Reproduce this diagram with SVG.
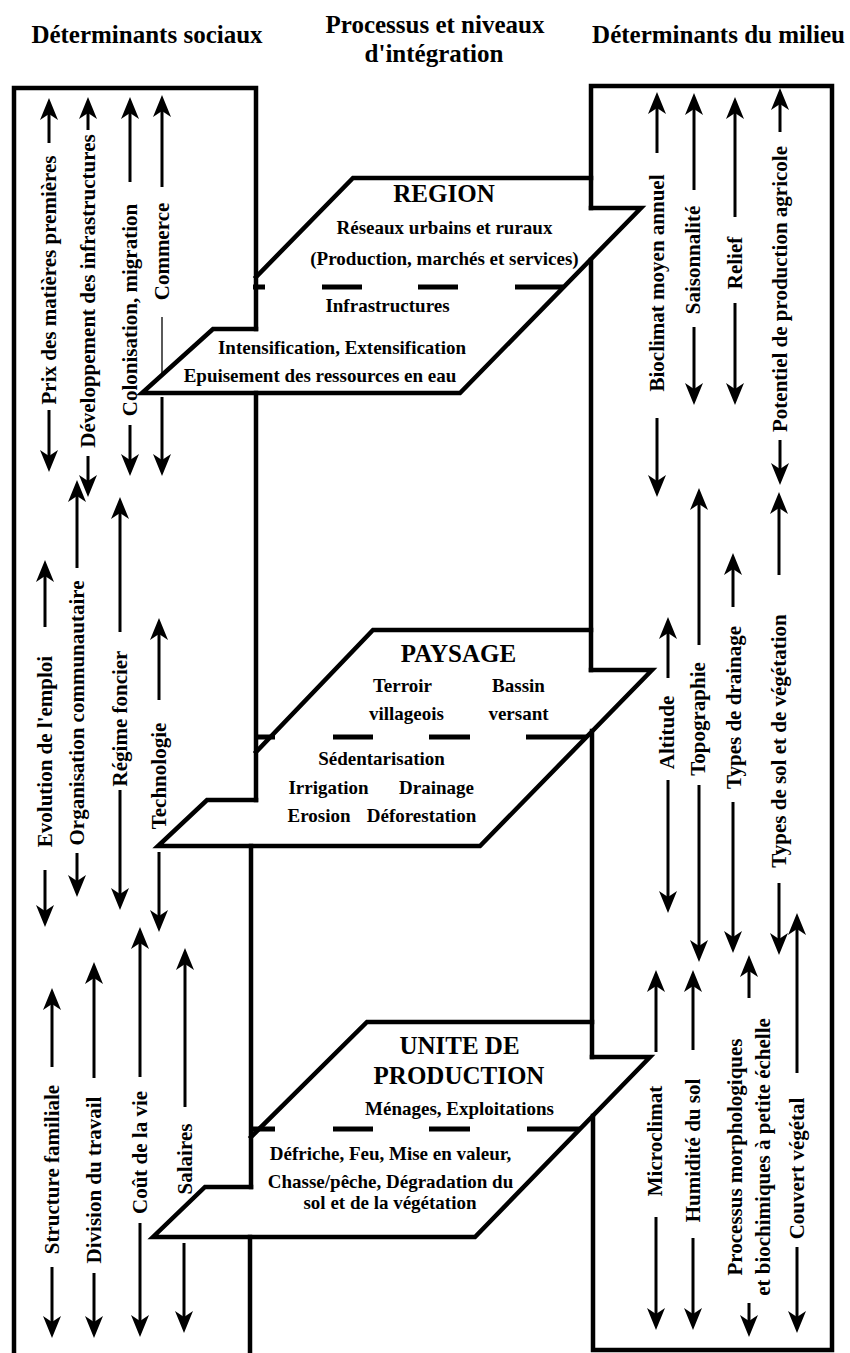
<svg xmlns="http://www.w3.org/2000/svg" width="850" height="1353" viewBox="0 0 850 1353">
<style>
.o{fill:none;stroke:#000;stroke-width:4.5;stroke-linecap:square;stroke-linejoin:miter}
.d{fill:none;stroke:#000;stroke-width:5}
.a{stroke:#000;stroke-width:3;marker-end:url(#ah)}
.t{stroke:#000;stroke-width:1.3}
text{font-family:"Liberation Serif","Times New Roman",serif;font-weight:bold;fill:#000}
.h{font-size:25px;text-anchor:middle}
.n{font-size:19px;text-anchor:middle}
.r{font-size:21px;text-anchor:middle}
</style>
<defs>
<marker id="ah" viewBox="0 0 22 18" refX="12" refY="9" markerWidth="22" markerHeight="18" markerUnits="userSpaceOnUse" orient="auto">
<path d="M0,0 L22,9 L0,18 L6,9 Z" fill="#000"/>
</marker>
</defs>
<rect width="850" height="1353" fill="#fff"/>

<g id="headers">
<text class="h" x="147" y="43">Déterminants sociaux</text>
<text class="h" x="435" y="33">Processus et niveaux</text>
<text class="h" x="434" y="62">d'intégration</text>
<text class="h" x="718.5" y="43">Déterminants du milieu</text>
</g>

<g id="col-social">
<path class="o" d="M14,1360 V88 H256 V329"/>
<path class="o" d="M256,393 V800"/>
<path class="o" d="M251,846 V1187"/>
<path class="o" d="M250,1237 V1360"/>
</g>

<g id="col-milieu">
<path class="o" d="M591,208 V86 H832 V1350 H593 V1116"/>
<path class="o" d="M591,260 V670"/>
<path class="o" d="M592,731 V1057"/>
</g>

<g id="node-region">
<path class="o" d="M256,329 H213 L142,393 H460 L641,208 H591"/>
<path class="o" d="M256,277 L353,178 H591"/>
<path class="d" d="M253,287 H265 M322,287 H362 M418,287 H458 M515,287 H563"/>
<text class="h" x="444" y="202">REGION</text>
<text class="n" x="444.5" y="234">Réseaux urbains et ruraux</text>
<text class="n" x="444.5" y="265">(Production, marchés et services)</text>
<text class="n" x="387.5" y="312">Infrastructures</text>
<text class="n" x="342" y="354">Intensification, Extensification</text>
<text class="n" x="320" y="382">Epuisement des ressources en eau</text>
</g>

<g id="node-paysage">
<path class="o" d="M256,800 H207 L158,846 H480 L652,670 H591"/>
<path class="o" d="M256,752 L373,630 H591"/>
<path class="d" d="M258,737 H275 M333,737 H373 M429,737 H470 M526,737 H587"/>
<text class="h" x="458.5" y="662">PAYSAGE</text>
<text class="n" x="402.5" y="692">Terroir</text>
<text class="n" x="518.5" y="692">Bassin</text>
<text class="n" x="406.5" y="720">villageois</text>
<text class="n" x="518.5" y="720">versant</text>
<text class="n" x="381.5" y="765">Sédentarisation</text>
<text class="n" x="328.5" y="794">Irrigation</text>
<text class="n" x="436.5" y="794">Drainage</text>
<text class="n" x="319" y="822">Erosion</text>
<text class="n" x="421.5" y="822">Déforestation</text>
</g>

<g id="node-unite">
<path class="o" d="M251,1187 H205 L153,1237 H475 L650,1057 H592"/>
<path class="o" d="M251,1137 L367,1022 H592"/>
<path class="d" d="M253,1129 H275 M333,1129 H373 M429,1129 H470 M527,1129 H580"/>
<text class="h" x="459.5" y="1054">UNITE DE</text>
<text class="h" x="459" y="1084">PRODUCTION</text>
<text class="n" x="459.5" y="1115">Ménages, Exploitations</text>
<text class="n" x="390.5" y="1160">Défriche, Feu, Mise en valeur,</text>
<text class="n" x="390.5" y="1188">Chasse/pêche, Dégradation du</text>
<text class="n" x="390" y="1209">sol et de la végétation</text>
</g>

<g id="connectors">
<!-- social, top -->
<line class="a" x1="49" y1="143" x2="49" y2="108"/><line class="a" x1="49" y1="410" x2="49" y2="462"/>
<line class="a" x1="88" y1="130" x2="88" y2="107"/><line class="a" x1="88" y1="456" x2="88" y2="487"/>
<line class="a" x1="130" y1="182" x2="130" y2="107"/><line class="a" x1="130" y1="425" x2="130" y2="466"/>
<line class="a" x1="162" y1="187" x2="162" y2="105"/><line class="t" x1="162" y1="317" x2="162" y2="373"/><line class="a" x1="162" y1="397" x2="162" y2="466"/>
<!-- social, middle -->
<line class="a" x1="45" y1="627" x2="45" y2="570"/><line class="a" x1="45" y1="870" x2="45" y2="917"/>
<line class="a" x1="77" y1="568" x2="77" y2="490"/><line class="a" x1="77" y1="853" x2="77" y2="887"/>
<line class="a" x1="120" y1="632" x2="120" y2="507"/><line class="a" x1="120" y1="790" x2="120" y2="900"/>
<line class="a" x1="159" y1="700" x2="159" y2="628"/><line class="a" x1="159" y1="852" x2="159" y2="922"/>
<!-- social, bottom -->
<line class="a" x1="52" y1="1067" x2="52" y2="998"/><line class="a" x1="52" y1="1267" x2="52" y2="1328"/>
<line class="a" x1="94" y1="1078" x2="94" y2="972"/><line class="a" x1="94" y1="1273" x2="94" y2="1328"/>
<line class="a" x1="140" y1="1077" x2="140" y2="937"/><line class="a" x1="140" y1="1223" x2="140" y2="1327"/>
<line class="a" x1="185" y1="1107" x2="185" y2="958"/><line class="a" x1="184" y1="1243" x2="184" y2="1323"/>
<!-- milieu, top -->
<line class="a" x1="657" y1="153" x2="657" y2="102"/><line class="a" x1="657" y1="418" x2="657" y2="487"/>
<line class="a" x1="694" y1="190" x2="694" y2="103"/><line class="a" x1="694" y1="327" x2="694" y2="395"/>
<line class="a" x1="735" y1="217" x2="735" y2="107"/><line class="a" x1="735" y1="303" x2="735" y2="395"/>
<line class="a" x1="780" y1="132" x2="780" y2="98"/><line class="a" x1="780" y1="440" x2="780" y2="475"/>
<!-- milieu, middle -->
<line class="a" x1="668" y1="678" x2="668" y2="627"/><line class="a" x1="668" y1="780" x2="668" y2="903"/>
<line class="a" x1="699" y1="645" x2="699" y2="498"/><line class="a" x1="699" y1="785" x2="699" y2="952"/>
<line class="a" x1="733" y1="607" x2="733" y2="563"/><line class="a" x1="733" y1="802" x2="733" y2="943"/>
<line class="a" x1="779" y1="575" x2="779" y2="502"/><line class="a" x1="779" y1="883" x2="779" y2="945"/>
<!-- milieu, bottom -->
<line class="a" x1="656" y1="1052" x2="656" y2="980"/><line class="a" x1="656" y1="1217" x2="656" y2="1320"/>
<line class="a" x1="693" y1="1050" x2="693" y2="980"/><line class="a" x1="693" y1="1238" x2="693" y2="1320"/>
<line class="a" x1="749" y1="998" x2="749" y2="965"/><line class="a" x1="749" y1="1303" x2="749" y2="1327"/>
<line class="a" x1="797" y1="1073" x2="797" y2="923"/><line class="a" x1="797" y1="1247" x2="797" y2="1323"/>
</g>

<g id="labels">
<text class="r" dy="0.33em" transform="translate(49,280) rotate(-90)">Prix des matières premières</text>
<text class="r" dy="0.33em" transform="translate(88,291) rotate(-90)">Développement des infrastructures</text>
<text class="r" dy="0.33em" transform="translate(130,310) rotate(-90)">Colonisation, migration</text>
<text class="r" dy="0.33em" transform="translate(162,251.5) rotate(-90)">Commerce</text>
<text class="r" dy="0.33em" transform="translate(45,751.5) rotate(-90)">Evolution de l'emploi</text>
<text class="r" dy="0.33em" transform="translate(77,713) rotate(-90)">Organisation communautaire</text>
<text class="r" dy="0.33em" transform="translate(120,718.5) rotate(-90)">Régime foncier</text>
<text class="r" dy="0.33em" transform="translate(159,776) rotate(-90)">Technologie</text>
<text class="r" dy="0.33em" transform="translate(52,1169.5) rotate(-90)">Structure familiale</text>
<text class="r" dy="0.33em" transform="translate(94,1180) rotate(-90)">Division du travail</text>
<text class="r" dy="0.33em" transform="translate(140,1152.5) rotate(-90)">Coût de la vie</text>
<text class="r" dy="0.33em" transform="translate(185,1159) rotate(-90)">Salaires</text>
<text class="r" dy="0.33em" transform="translate(657,283) rotate(-90)">Bioclimat moyen annuel</text>
<text class="r" dy="0.33em" transform="translate(693,260) rotate(-90)">Saisonnalité</text>
<text class="r" dy="0.33em" transform="translate(735,263) rotate(-90)">Relief</text>
<text class="r" dy="0.33em" transform="translate(780,289) rotate(-90)">Potentiel de production agricole</text>
<text class="r" dy="0.33em" transform="translate(667,732.5) rotate(-90)">Altitude</text>
<text class="r" dy="0.33em" transform="translate(698,719) rotate(-90)">Topographie</text>
<text class="r" dy="0.33em" transform="translate(734,707.5) rotate(-90)">Types de drainage</text>
<text class="r" dy="0.33em" transform="translate(779,741) rotate(-90)">Types de sol et de végétation</text>
<text class="r" dy="0.33em" transform="translate(655,1141) rotate(-90)">Microclimat</text>
<text class="r" dy="0.33em" transform="translate(693,1150.5) rotate(-90)">Humidité du sol</text>
<text class="r" dy="0.33em" transform="translate(735,1157) rotate(-90)">Processus morphologiques</text>
<text class="r" dy="0.33em" transform="translate(763,1157) rotate(-90)">et biochimiques à petite échelle</text>
<text class="r" dy="0.33em" transform="translate(797,1168.5) rotate(-90)">Couvert végétal</text>
</g>
</svg>
